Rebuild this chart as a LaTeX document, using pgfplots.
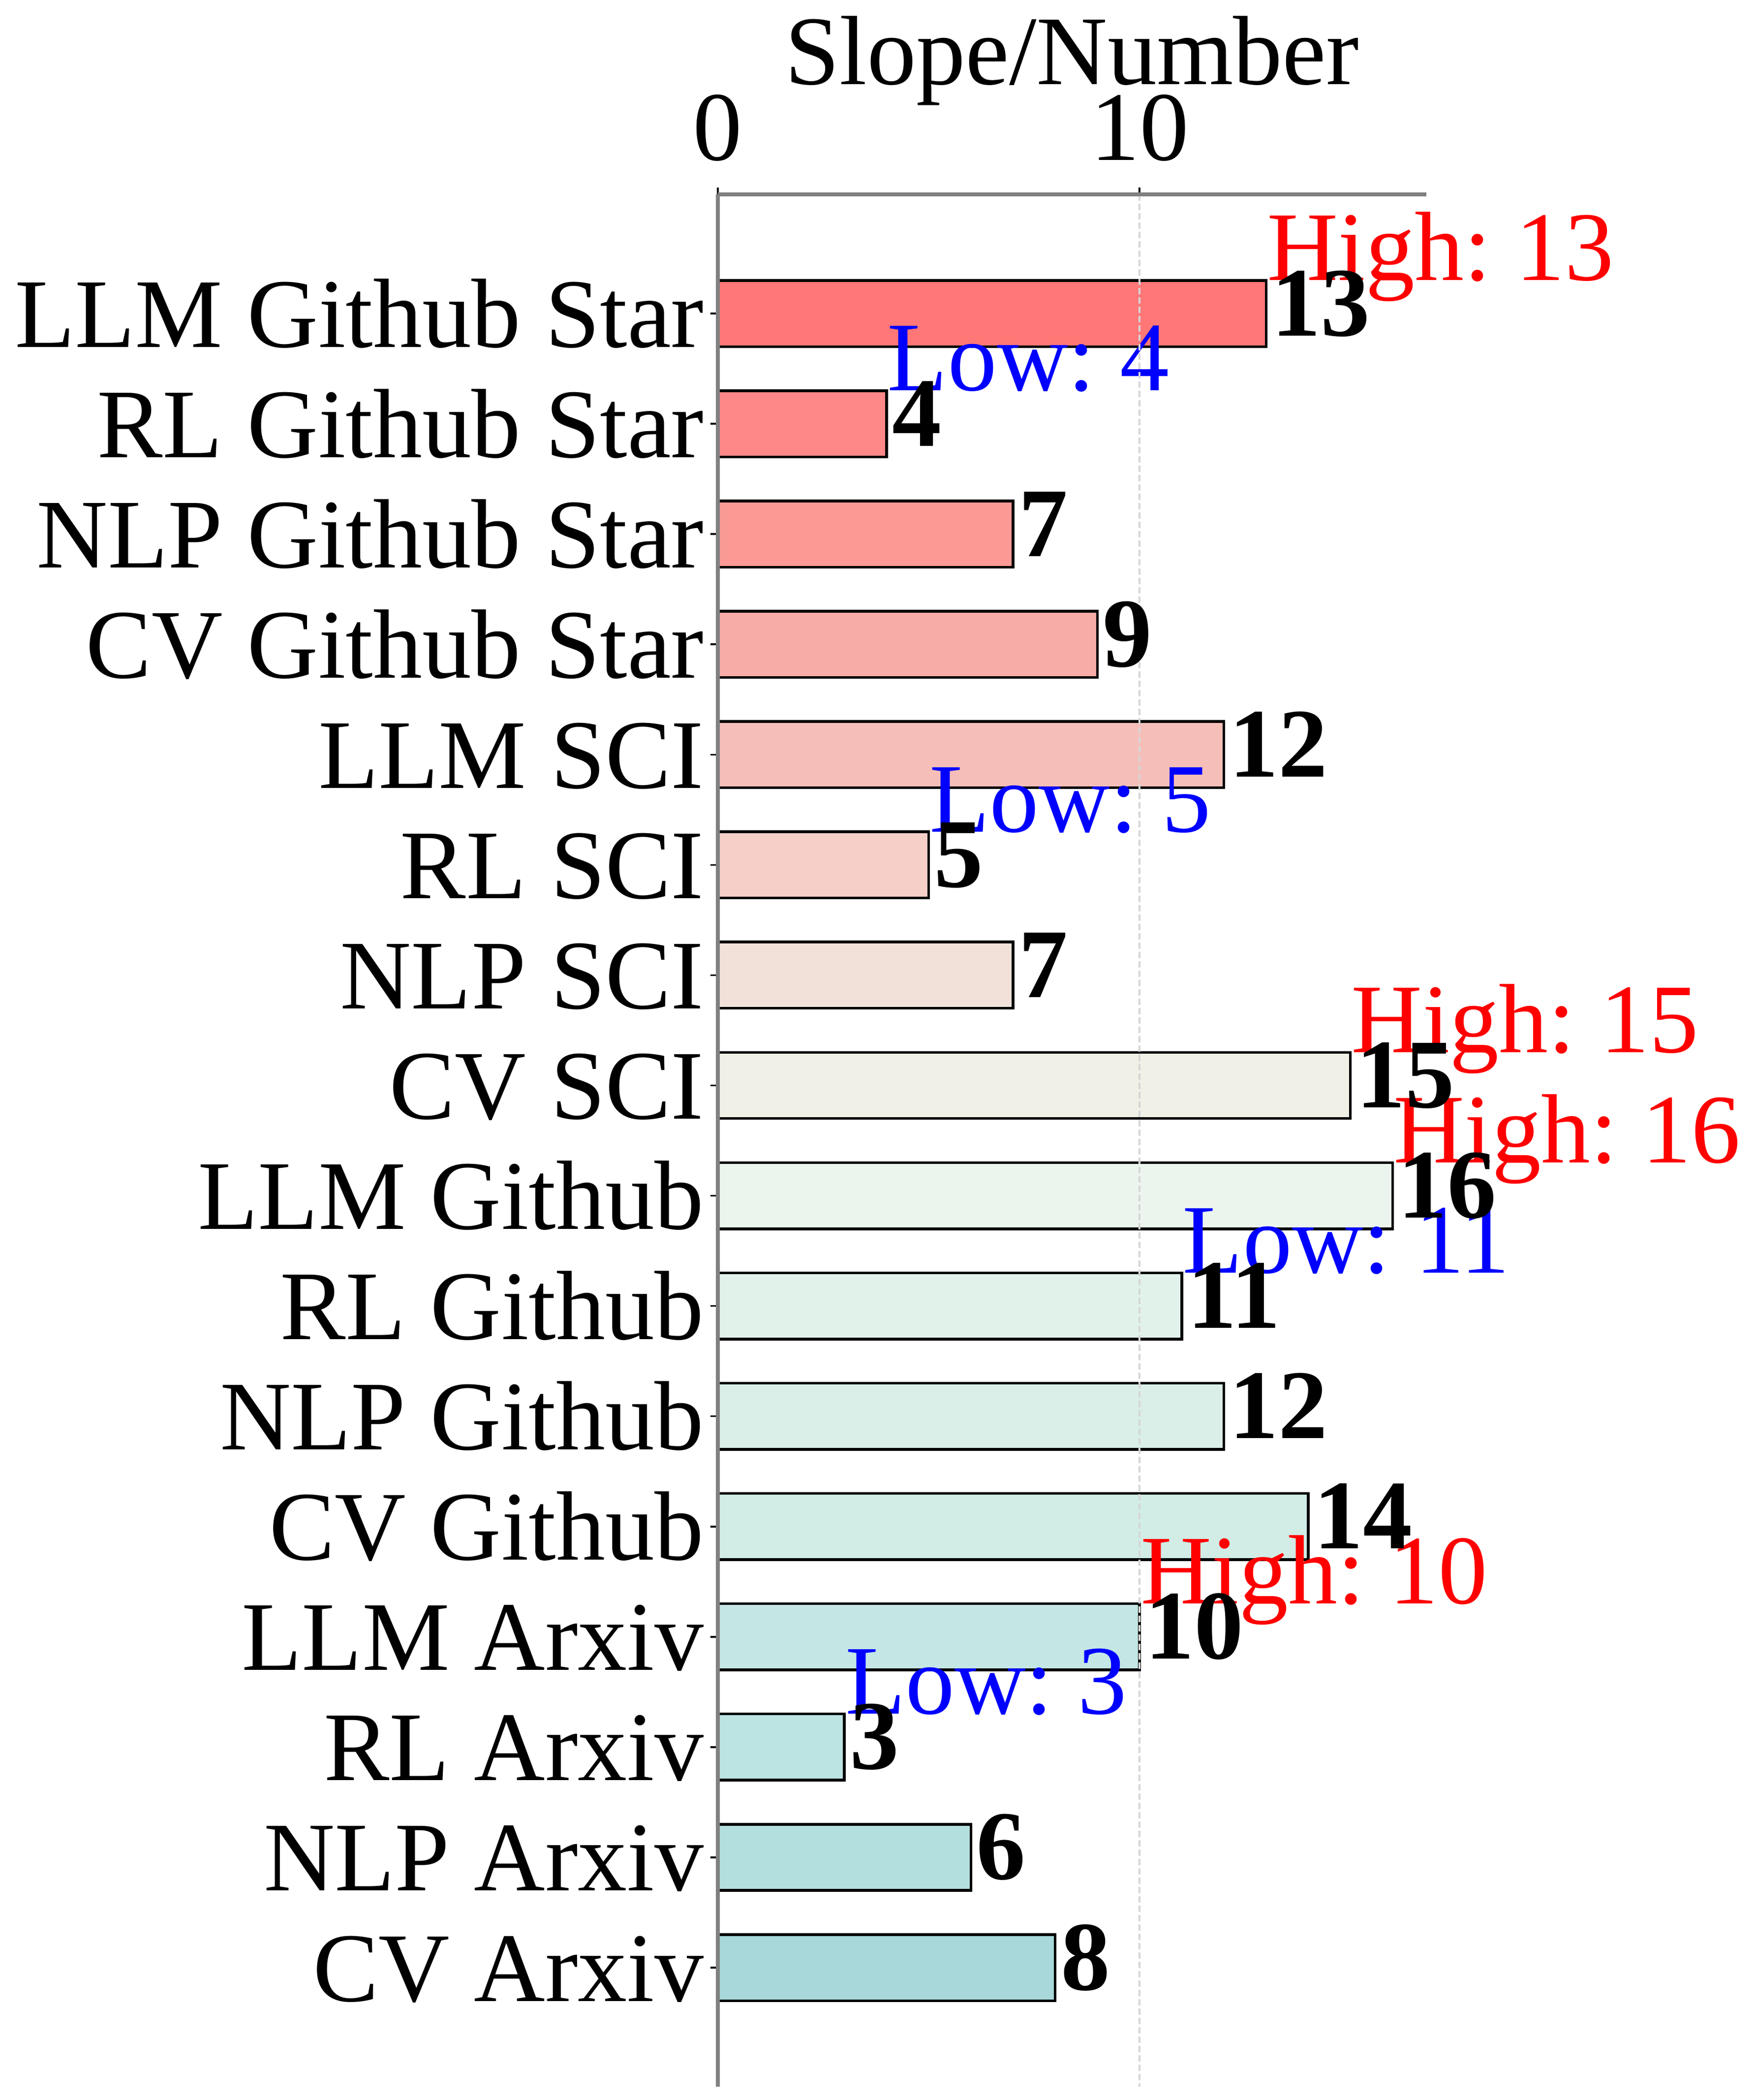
\documentclass[border=0pt]{standalone}
\usepackage{pgfplots}
\pgfplotsset{compat=1.18}
\usepackage{fontspec}
\setmainfont{Liberation Serif}
\frenchspacing
\definecolor{c0}{HTML}{FF7777}
\definecolor{c1}{HTML}{FE8887}
\definecolor{c2}{HTML}{FB9A95}
\definecolor{c3}{HTML}{F8ACA7}
\definecolor{c4}{HTML}{F6BEB8}
\definecolor{c5}{HTML}{F5CFC8}
\definecolor{c6}{HTML}{F2E1D9}
\definecolor{c7}{HTML}{F0F0E6}
\definecolor{c8}{HTML}{EBF5EE}
\definecolor{c9}{HTML}{E1F2EA}
\definecolor{c10}{HTML}{D9EFE7}
\definecolor{c11}{HTML}{D1EDE6}
\definecolor{c12}{HTML}{C4E7E5}
\definecolor{c13}{HTML}{BCE4E2}
\definecolor{c14}{HTML}{B3E0DF}
\definecolor{c15}{HTML}{A8D8DA}
\definecolor{axisgray}{HTML}{808080}
\definecolor{gridgray}{HTML}{D6D6D6}
\newcommand{\ff}{\fontsize{20}{24}\selectfont}
\begin{document}
\begin{tikzpicture}
\useasboundingbox (-145.9pt,-2.7pt) rectangle (210.8pt,424.0pt);
\begin{axis}[
  at={(0,0)}, anchor=south west,
  scale only axis, width=144.0pt, height=384.5pt,
  xmin=0, xmax=16.8, ymin=-1.08, ymax=16.08,
  y dir=reverse,
  axis x line*=top, axis y line*=left,
  axis line style={draw=axisgray, line width=0.8pt},
  x axis line style={draw=axisgray, line width=0.8pt},
  y axis line style={draw=axisgray, line width=0.8pt},
  xtick={0,10}, ytick={0,...,15},
  yticklabels={LLM Github Star, RL Github Star, NLP Github Star, CV Github Star, LLM SCI, RL SCI, NLP SCI, CV SCI, LLM Github, RL Github, NLP Github, CV Github, LLM Arxiv, RL Arxiv, NLP Arxiv, CV Arxiv},
  tick align=outside, major tick length=1.45pt,
  tick style={black, line width=0.35pt},
  xmajorgrids, ymajorgrids=false,
  grid style={draw=gridgray, line width=0.35pt, dash pattern=on 1.3pt off 0.6pt},
  /pgf/number format/assume math mode=true,
  tick label style={font=\ff},
  xticklabel style={anchor=base, inner sep=0pt, yshift=5.55pt},
  yticklabel style={anchor=base east, inner sep=0pt, xshift=-1.2pt, yshift=-6.8pt},
  xlabel={Slope/Number},
  xlabel style={font=\ff, at={(axis description cs:0.5,1)}, anchor=base, inner sep=0pt, yshift=22.4pt},
  xbar, bar shift=0pt, bar width=0.6,
  point meta=explicit symbolic,
  nodes near coords={\textbf{\pgfplotspointmeta}},
  nodes near coords style={font=\ff, anchor=base west, inner sep=0pt, xshift=0.86pt, yshift=-4.5pt, text=black},
  axis on top,
  clip=false,
]
\addplot[fill=c0, draw=black, line width=0.55pt] coordinates {(13,0) [13]};
\addplot[fill=c1, draw=black, line width=0.55pt] coordinates {(4,1) [4]};
\addplot[fill=c2, draw=black, line width=0.55pt] coordinates {(7,2) [7]};
\addplot[fill=c3, draw=black, line width=0.55pt] coordinates {(9,3) [9]};
\addplot[fill=c4, draw=black, line width=0.55pt] coordinates {(12,4) [12]};
\addplot[fill=c5, draw=black, line width=0.55pt] coordinates {(5,5) [5]};
\addplot[fill=c6, draw=black, line width=0.55pt] coordinates {(7,6) [7]};
\addplot[fill=c7, draw=black, line width=0.55pt] coordinates {(15,7) [15]};
\addplot[fill=c8, draw=black, line width=0.55pt] coordinates {(16,8) [16]};
\addplot[fill=c9, draw=black, line width=0.55pt] coordinates {(11,9) [11]};
\addplot[fill=c10, draw=black, line width=0.55pt] coordinates {(12,10) [12]};
\addplot[fill=c11, draw=black, line width=0.55pt] coordinates {(14,11) [14]};
\addplot[fill=c12, draw=black, line width=0.55pt] coordinates {(10,12) [10]};
\addplot[fill=c13, draw=black, line width=0.55pt] coordinates {(3,13) [3]};
\addplot[fill=c14, draw=black, line width=0.55pt] coordinates {(6,14) [6]};
\addplot[fill=c15, draw=black, line width=0.55pt] coordinates {(8,15) [8]};
\node[anchor=base west, inner sep=0pt, text=red, font=\ff] at (axis cs:13,-0.3) {High: 13};
\node[anchor=base west, inner sep=0pt, text=blue, font=\ff] at (axis cs:4,0.7) {Low: 4};
\node[anchor=base west, inner sep=0pt, text=red, font=\ff] at (axis cs:15,6.7) {High: 15};
\node[anchor=base west, inner sep=0pt, text=blue, font=\ff] at (axis cs:5,4.7) {Low: 5};
\node[anchor=base west, inner sep=0pt, text=red, font=\ff] at (axis cs:16,7.7) {High: 16};
\node[anchor=base west, inner sep=0pt, text=blue, font=\ff] at (axis cs:11,8.7) {Low: 11};
\node[anchor=base west, inner sep=0pt, text=red, font=\ff] at (axis cs:10,11.7) {High: 10};
\node[anchor=base west, inner sep=0pt, text=blue, font=\ff] at (axis cs:3,12.7) {Low: 3};
\end{axis}
\end{tikzpicture}
\end{document}
